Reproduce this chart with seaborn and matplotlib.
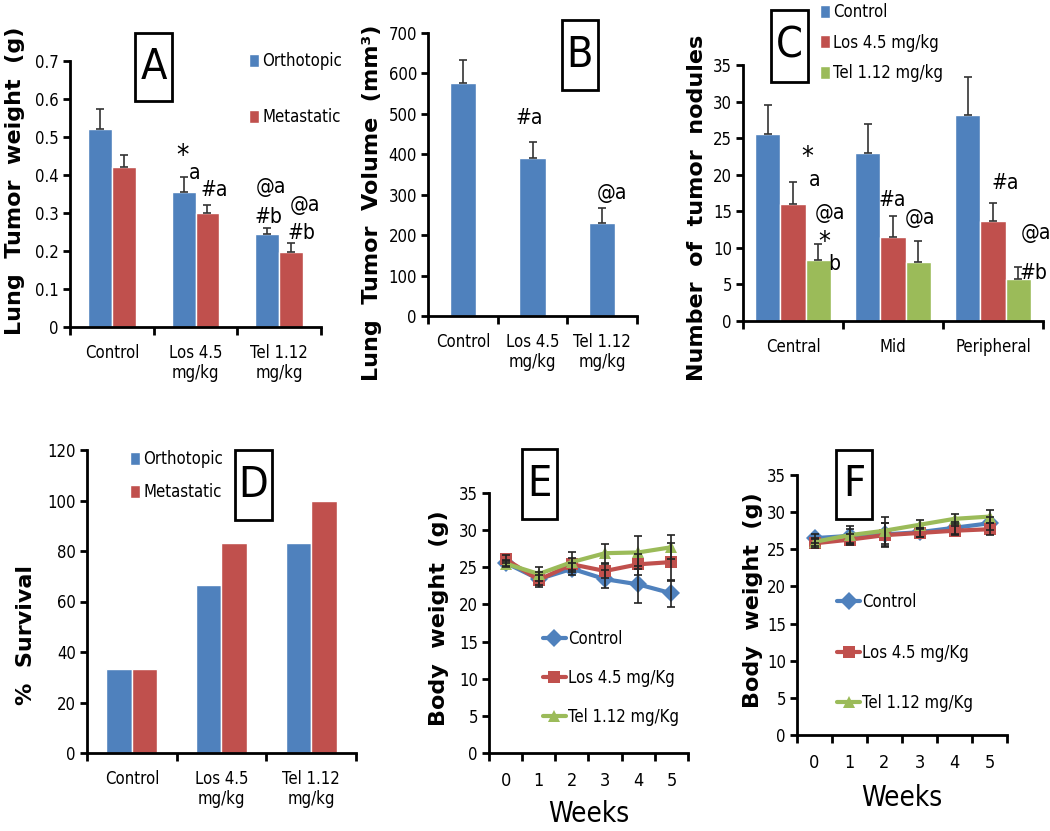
import numpy as np
import pandas as pd
import matplotlib
matplotlib.use('Agg')
import matplotlib.pyplot as plt
from matplotlib.patches import Rectangle
from matplotlib.ticker import FuncFormatter
import seaborn as sns

BLUE = '#4F81BD'
RED = '#C0504D'
GREEN = '#9BBB59'

# A - lung tumor weight
groups = ['Control', 'Los 4.5\nmg/kg', 'Tel 1.12\nmg/kg']
models = ['Orthotopic', 'Metastatic']
weight_ortho = [0.52, 0.355, 0.245]
weight_ortho_err = [0.055, 0.04, 0.015]
weight_meta = [0.42, 0.30, 0.198]
weight_meta_err = [0.032, 0.022, 0.022]

# B - lung tumor volume
volume = [577, 390, 230]
volume_err = [55, 40, 38]

# C - tumor nodules by region
regions = ['Central', 'Mid', 'Peripheral']
treatments = ['Control', 'Los 4.5 mg/kg', 'Tel 1.12 mg/kg']
nodules_control = [25.5, 23.0, 28.2]
nodules_control_err = [4.0, 4.0, 5.1]
nodules_los = [16.0, 11.5, 13.7]
nodules_los_err = [3.0, 2.8, 2.5]
nodules_tel = [8.3, 8.0, 5.7]
nodules_tel_err = [2.2, 2.9, 1.7]

# D - survival
survival_ortho = [33.3, 66.7, 83.3]
survival_meta = [33.3, 83.3, 100]

# E / F - body weight
weeks = [0, 1, 2, 3, 4, 5]
line_groups = ['Control', 'Los 4.5 mg/Kg', 'Tel 1.12 mg/Kg']
e_control = [25.6, 23.4, 24.8, 23.4, 22.7, 21.5]
e_control_err = [0.4, 1.0, 0.8, 1.2, 2.5, 1.8]
e_los = [26.1, 23.3, 25.4, 24.5, 25.4, 25.7]
e_los_err = [0.5, 0.7, 0.8, 1.0, 1.4, 2.6]
e_tel = [25.5, 24.1, 25.7, 26.9, 27.0, 27.7]
e_tel_err = [0.4, 0.9, 1.3, 1.3, 2.2, 1.6]
f_control = [26.5, 26.8, 27.0, 27.3, 27.9, 28.5]
f_control_err = [0.6, 0.9, 1.5, 0.6, 0.8, 0.9]
f_los = [25.8, 26.3, 26.9, 27.2, 27.5, 27.7]
f_los_err = [0.6, 0.7, 1.6, 0.6, 0.6, 0.8]
f_tel = [26.0, 26.9, 27.5, 28.3, 29.1, 29.4]
f_tel_err = [0.5, 1.2, 1.8, 0.6, 0.7, 0.9]

sns.set_style('ticks')
plt.rcParams['font.family'] = ['DejaVu Sans']
plt.rcParams['font.stretch'] = 'condensed'
for key in ['text.color', 'axes.labelcolor', 'xtick.color', 'ytick.color']:
    plt.rcParams[key] = 'black'
TICK_FS = 12
LABEL_FONT = dict(family='DejaVu Sans', weight='bold', size=16, stretch='normal')
LEG_KW = dict(frameon=False, fontsize=TICK_FS, borderpad=0, borderaxespad=0)


def style_axis(ax, ymax, ystep, ncat):
    """Excel-like axis: left/bottom spines, ticks between categories."""
    sns.despine(ax=ax)
    for side in ['left', 'bottom']:
        ax.spines[side].set_linewidth(2)
        ax.spines[side].set_color('black')
    ax.set_ylim(0, ymax)
    ax.set_yticks(np.arange(0, ymax + ystep / 2, ystep))
    ax.yaxis.set_major_formatter(FuncFormatter(lambda v, p: f'{v:g}'))
    ax.set_xlim(-0.5, ncat - 0.5)
    ax.set_xticks(np.arange(-0.5, ncat, 1), minor=True)
    ax.tick_params(axis='x', which='major', length=0, pad=12, labelsize=TICK_FS)
    ax.tick_params(axis='x', which='minor', length=6, width=2, direction='out')
    ax.tick_params(axis='y', length=5, width=2, direction='out', labelsize=TICK_FS, pad=3)
    ax.set_xlabel('')


def bar_errors(ax, errs):
    """Upper-only error bars on top of each hue container."""
    for cont, err in zip(ax.containers, errs):
        xs = [p.get_x() + p.get_width() / 2 for p in cont.patches]
        ys = [p.get_height() for p in cont.patches]
        ax.errorbar(xs, ys, yerr=[np.zeros(len(err)), err], fmt='none',
                    ecolor='#333333', elinewidth=1.2, capsize=3, capthick=1.2)


def letter_box(fig, x0, y0, x1, y1, letter):
    """Boxed panel letter, coordinates in pixels from top-left."""
    W, H = 1050, 831
    fig.add_artist(Rectangle((x0 / W, 1 - y1 / H), (x1 - x0) / W, (y1 - y0) / H,
                             transform=fig.transFigure, fill=False, lw=2, ec='black'))
    fig.text((x0 + x1) / 2 / W, 1 - (y0 + y1) / 2 / H, letter, ha='center', va='center',
             fontsize=31, color='black')


def axes_at(fig, left, top, right, bottom):
    W, H = 1050, 831
    return fig.add_axes([left / W, 1 - bottom / H, (right - left) / W, (bottom - top) / H])


fig = plt.figure(figsize=(10.5, 8.31), dpi=100)

# ---- A
ax = axes_at(fig, 70, 61, 321, 327)
df_a = pd.DataFrame({'group': groups * 2, 'model': np.repeat(models, 3),
                     'value': weight_ortho + weight_meta})
sns.barplot(data=df_a, x='group', y='value', hue='model', palette=[BLUE, RED],
            width=0.57, saturation=1, ax=ax)
bar_errors(ax, [weight_ortho_err, weight_meta_err])
style_axis(ax, 0.7, 0.1, 3)
ax.set_ylabel('Lung  Tumor  weight  (g)', fontdict=LABEL_FONT)
ax.yaxis.set_label_coords(-0.18, 0.55)
ax.legend(loc='upper left', bbox_to_anchor=(0.713, 1.034), handlelength=0.6,
          handleheight=0.8, handletextpad=0.2, labelspacing=2.3, **LEG_KW)
for x, y, s in [(0.85, 0.45, '*'), (0.99, 0.405, 'a'), (1.23, 0.36, '#a'),
                (1.90, 0.368, '@a'), (1.87, 0.289, '#b'), (2.31, 0.321, '@a'),
                (2.27, 0.247, '#b')]:
    ax.text(x, y, s, ha='center', va='center', fontsize=20 if s == '*' else 15)

# ---- B
ax = axes_at(fig, 428, 33, 637, 316)
df_b = pd.DataFrame({'group': groups, 'value': volume})
sns.barplot(data=df_b, x='group', y='value', color=BLUE, width=0.38, saturation=1, ax=ax)
bar_errors(ax, [volume_err])
style_axis(ax, 700, 100, 3)
ax.set_ylabel('Lung  Tumor  Volume  (mm³)', fontdict=LABEL_FONT)
ax.yaxis.set_label_coords(-0.22, 0.40)
ax.text(0.96, 490, '#a', ha='center', va='center', fontsize=15)
ax.text(2.14, 304, '@a', ha='center', va='center', fontsize=15)

# ---- C
ax = axes_at(fig, 743, 65, 1043, 321)
df_c = pd.DataFrame({'region': regions * 3, 'treatment': np.repeat(treatments, 3),
                     'value': nodules_control + nodules_los + nodules_tel})
sns.barplot(data=df_c, x='region', y='value', hue='treatment', palette=[BLUE, RED, GREEN],
            width=0.76, saturation=1, ax=ax)
bar_errors(ax, [nodules_control_err, nodules_los_err, nodules_tel_err])
style_axis(ax, 35, 5, 3)
ax.set_ylabel('Number  of  tumor  nodules', fontdict=LABEL_FONT)
ax.yaxis.set_label_coords(-0.12, 0.44)
ax.legend(loc='upper left', bbox_to_anchor=(0.257, 1.242), handlelength=0.6,
          handleheight=0.8, handletextpad=0.2, labelspacing=0.75, **LEG_KW)
for x, y, s in [(0.14, 22.3, '*'), (0.22, 19.3, 'a'), (0.37, 14.8, '@a'),
                (0.31, 10.6, '*'), (0.41, 7.8, 'b'), (0.99, 16.5, '#a'),
                (1.27, 14.1, '@a'), (2.12, 18.9, '#a'), (2.43, 12.0, '@a'),
                (2.40, 6.6, '#b')]:
    ax.text(x, y, s, ha='center', va='center', fontsize=19 if s == '*' else 15)

# ---- D
ax = axes_at(fig, 87, 450, 356, 753)
df_d = pd.DataFrame({'group': groups * 2, 'model': np.repeat(models, 3),
                     'value': survival_ortho + survival_meta})
sns.barplot(data=df_d, x='group', y='value', hue='model', palette=[BLUE, RED],
            width=0.57, saturation=1, ax=ax)
style_axis(ax, 120, 20, 3)
ax.set_ylabel('%  Survival', fontdict=LABEL_FONT)
ax.yaxis.set_label_coords(-0.19, 0.39)
ax.legend(loc='upper left', bbox_to_anchor=(0.16, 1.0), handlelength=0.6,
          handleheight=0.8, handletextpad=0.2, labelspacing=0.9, **LEG_KW)


def body_weight(ax, values, errs, legend_anchor, spacing, weeks_pad):
    df = pd.DataFrame({'week': weeks * 3, 'group': np.repeat(line_groups, 6),
                       'bw': values[0] + values[1] + values[2]})
    sns.lineplot(data=df, x='week', y='bw', hue='group', style='group',
                 markers=['D', 's', '^'], dashes=False, palette=[BLUE, RED, GREEN],
                 linewidth=3, markersize=9, markeredgewidth=0, ax=ax)
    for vals, err in zip(values, errs):
        ax.errorbar(weeks, vals, yerr=err, fmt='none', ecolor='#222222',
                    elinewidth=1.2, capsize=3, capthick=1.2)
    style_axis(ax, 35, 5, 6)
    ax.set_xticks(weeks)
    ax.tick_params(axis='x', which='major', pad=14, labelsize=13)
    ax.set_xlabel('Weeks', fontsize=20, labelpad=weeks_pad)
    ax.set_ylabel('Body  weight  (g)', fontdict=LABEL_FONT)
    ax.legend(loc='upper left', bbox_to_anchor=legend_anchor, handlelength=1.4,
              handletextpad=0.1, labelspacing=spacing, **LEG_KW)


# ---- E
ax = axes_at(fig, 489, 493, 688, 753)
body_weight(ax, [e_control, e_los, e_tel], [e_control_err, e_los_err, e_tel_err],
            (0.27, 0.473), 1.25, 7)
ax.yaxis.set_label_coords(-0.2, 0.52)

# ---- F
ax = axes_at(fig, 797, 475, 1007, 735)
body_weight(ax, [f_control, f_los, f_tel], [f_control_err, f_los_err, f_tel_err],
            (0.19, 0.546), 1.95, 8)
ax.yaxis.set_label_coords(-0.16, 0.52)

letter_box(fig, 135, 33, 172, 101, 'A')
letter_box(fig, 562, 20, 598, 90, 'B')
letter_box(fig, 771, 10, 808, 82, 'C')
letter_box(fig, 235, 450, 272, 520, 'D')
letter_box(fig, 522, 449, 557, 519, 'E')
letter_box(fig, 836, 450, 872, 519, 'F')

fig.savefig('out.png', dpi=100)
